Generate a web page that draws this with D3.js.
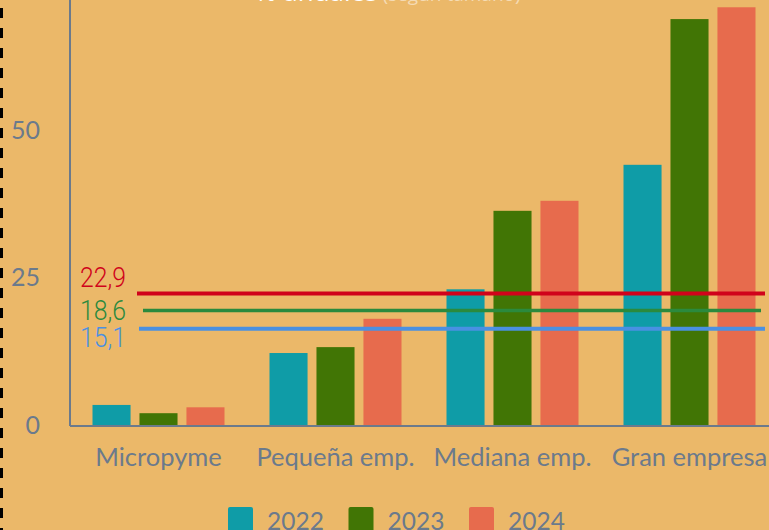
<!DOCTYPE html>
<html>
<head>
<meta charset="utf-8">
<script src="https://cdn.jsdelivr.net/npm/d3@7"></script>
<style>
  html, body { margin: 0; padding: 0; background: #ebb869; overflow: hidden; }
  svg { display: block; }
</style>
</head>
<body>
<div id="chart"></div>
<script>
// data
var categories = ['Micropyme', 'Pequeña emp.', 'Mediana emp.', 'Gran empresa'];
var years = ['2022', '2023', '2024'];
var values2022 = [3.4, 12.2, 23.0, 44.1];
var values2023 = [2.0, 13.2, 36.3, 68.8];
var values2024 = [3.0, 18.0, 38.0, 70.8];
var yTicks = [0, 25, 50];
var refValues = [22.3, 19.4, 16.3];
var refLabels = ['22,9', '18,6', '15,1'];

var colors = ['#0f9ca7', '#417505', '#e76b4d'];
var refColors = ['#d0021b', '#2b8a3e', '#4a90e2'];
var gray = '#6b7a8c';

var W = 769, H = 530;
var svg = d3.select('#chart').append('svg').attr('width', W).attr('height', H);

svg.append('rect').attr('width', W).attr('height', H).style('fill', '#ebb869');

// dashed border on the left
svg.append('line').attr('x1', 1.5).attr('x2', 1.5).attr('y1', 8).attr('y2', H)
  .style('stroke', '#000').style('stroke-width', 3).style('stroke-dasharray', '10,10');

// title, mostly cut off at the top
var title = svg.append('text').attr('x', 255).attr('y', 1)
  .style('font-family', '"Open Sans", sans-serif').style('font-size', '26px').style('fill', '#fff');
title.append('tspan').text('% anuales');
title.append('tspan').style('fill-opacity', 0.5).style('font-size', '19px').text(' (según tamaño)');

var x = d3.scaleBand().domain(categories).range([70, 778]);
var xi = d3.scaleBand().domain(years).range([22.5, 154.5]).paddingInner(0.19);
var y = d3.scaleLinear().domain([0, 75]).range([425, -17.5]);

var series = [values2022, values2023, values2024];
var rows = categories.map(function(c, i) {
  return { cat: c, vals: years.map(function(yr, j) { return { year: yr, v: series[j][i], j: j }; }) };
});

var groups = svg.selectAll('g.grp').data(rows).enter().append('g')
  .attr('transform', function(d) { return 'translate(' + x(d.cat) + ',0)'; });
groups.selectAll('rect').data(function(d) { return d.vals; }).enter().append('rect')
  .attr('x', function(d) { return xi(d.year); })
  .attr('width', xi.bandwidth())
  .attr('y', function(d) { return y(d.v); })
  .attr('height', function(d) { return y(0) - y(d.v); })
  .style('fill', function(d) { return colors[d.j]; });

// axes
svg.append('line').attr('x1', 70).attr('x2', 70).attr('y1', 0).attr('y2', 426)
  .style('stroke', gray).style('stroke-width', 2);
svg.append('line').attr('x1', 70).attr('x2', W).attr('y1', 426).attr('y2', 426)
  .style('stroke', gray).style('stroke-width', 2);

svg.selectAll('text.ytick').data(yTicks).enter().append('text')
  .attr('x', 40).attr('y', function(d) { return y(d); }).attr('dy', '0.35em')
  .attr('text-anchor', 'end')
  .style('font-family', 'Lato, sans-serif').style('font-size', '25px').style('fill', gray)
  .text(function(d) { return d; });

svg.selectAll('text.xcat').data(categories).enter().append('text')
  .attr('x', function(d) { return x(d) + x.bandwidth() / 2; }).attr('y', 466)
  .attr('text-anchor', 'middle')
  .style('font-family', 'Lato, sans-serif').style('font-size', '25.5px').style('fill', gray)
  .text(function(d) { return d; });

// reference lines
var refStart = [137, 143, 139], refEnd = [765, 761, 765], refWidth = [4, 3.5, 4];
var labelY = [287, 320, 347];
refValues.forEach(function(v, i) {
  svg.append('line').attr('x1', refStart[i]).attr('x2', refEnd[i])
    .attr('y1', y(v)).attr('y2', y(v))
    .style('stroke', refColors[i]).style('stroke-width', refWidth[i]);
  svg.append('text').attr('x', 80).attr('y', labelY[i])
    .attr('textLength', 46).attr('lengthAdjust', 'spacingAndGlyphs')
    .style('font-family', 'Roboto, sans-serif').style('font-weight', 300)
    .style('font-size', '27px').style('fill', refColors[i])
    .text(refLabels[i]);
});

// legend
var leg = svg.selectAll('g.leg').data(years).enter().append('g')
  .attr('transform', function(d, i) { return 'translate(' + (228 + i * 120.5) + ',507)'; });
leg.append('rect').attr('width', 25).attr('height', 25).attr('rx', 2)
  .style('fill', function(d, i) { return colors[i]; });
leg.append('text').attr('x', 39).attr('y', 23)
  .style('font-family', 'Lato, sans-serif').style('font-size', '24.5px').style('fill', gray)
  .text(function(d) { return d; });
</script>
</body>
</html>
